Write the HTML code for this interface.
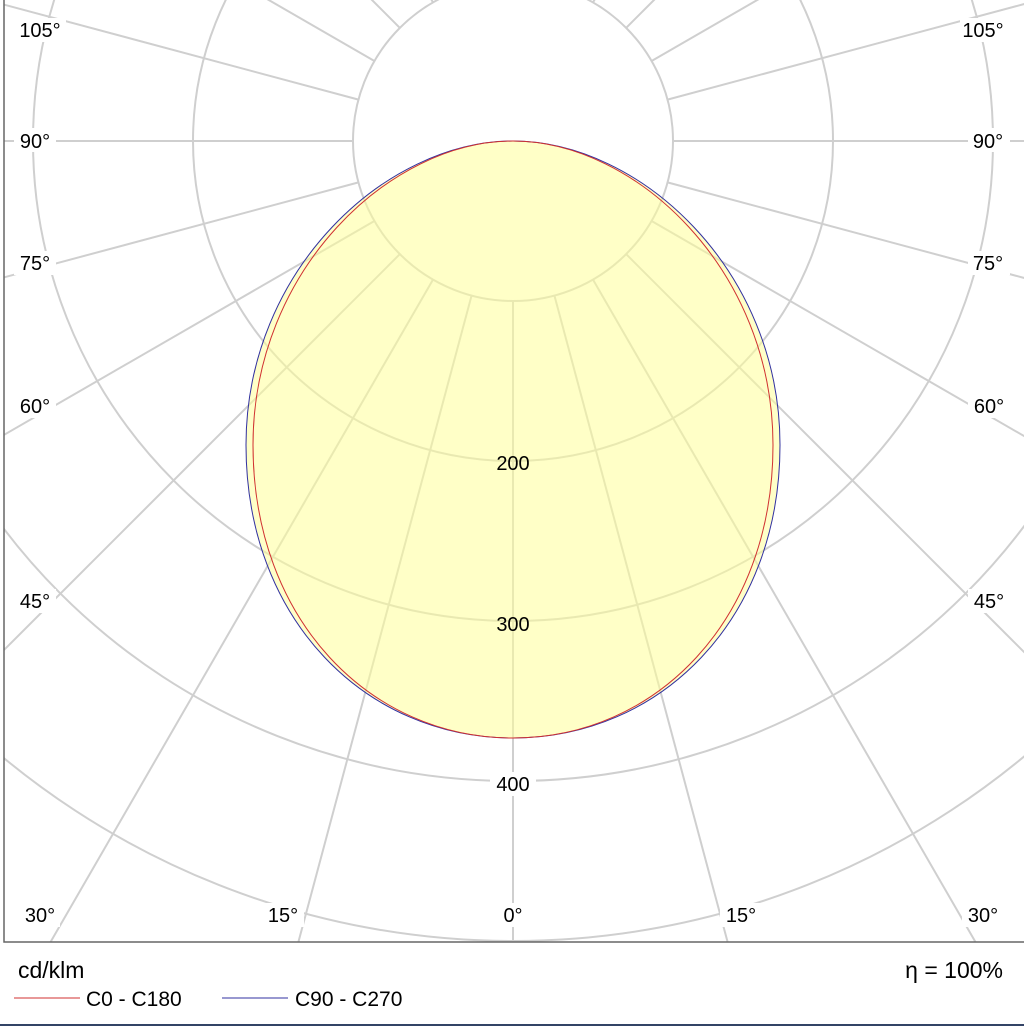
<!DOCTYPE html>
<html><head><style>
html,body{margin:0;padding:0;background:#fff;overflow:hidden;width:1024px;height:1026px}
svg{display:block}
text{font-family:"Liberation Sans",Arial,sans-serif;fill:#000}
</style></head><body>
<svg width="1024" height="1026" viewBox="0 0 1024 1026">
<defs><clipPath id="c"><rect x="4" y="0" width="1020" height="942"/></clipPath></defs>
<g clip-path="url(#c)" stroke="#cfcfcf" stroke-width="2" fill="none">
<circle cx="513" cy="141" r="160"/>
<circle cx="513" cy="141" r="320"/>
<circle cx="513" cy="141" r="480"/>
<circle cx="513" cy="141" r="640"/>
<circle cx="513" cy="141" r="800"/>
<circle cx="513" cy="141" r="960"/>
<line x1="513" y1="301" x2="513" y2="1541"/>
<line x1="554.4" y1="295.5" x2="875.3" y2="1493.3"/><line x1="471.6" y1="295.5" x2="150.7" y2="1493.3"/>
<line x1="593" y1="279.6" x2="1213" y2="1353.4"/><line x1="433" y1="279.6" x2="-187" y2="1353.4"/>
<line x1="626.1" y1="254.1" x2="1502.9" y2="1130.9"/><line x1="399.9" y1="254.1" x2="-476.9" y2="1130.9"/>
<line x1="651.6" y1="221" x2="1725.4" y2="841"/><line x1="374.4" y1="221" x2="-699.4" y2="841"/>
<line x1="667.5" y1="182.4" x2="1865.3" y2="503.3"/><line x1="358.5" y1="182.4" x2="-839.3" y2="503.3"/>
<line x1="673" y1="141" x2="1913" y2="141"/><line x1="353" y1="141" x2="-887" y2="141"/>
<line x1="667.5" y1="99.6" x2="1865.3" y2="-221.3"/><line x1="358.5" y1="99.6" x2="-839.3" y2="-221.3"/>
<line x1="651.6" y1="61" x2="1725.4" y2="-559"/><line x1="374.4" y1="61" x2="-699.4" y2="-559"/>
<line x1="626.1" y1="27.9" x2="1502.9" y2="-848.9"/><line x1="399.9" y1="27.9" x2="-476.9" y2="-848.9"/>
<line x1="593" y1="2.4" x2="1213" y2="-1071"/><line x1="433" y1="2.4" x2="-187" y2="-1071"/>
</g>
<path d="M513,141 C640,141 780,270 780,445 C780,620 660,738 513,738 C366,738 246,620 246,445 C246,270 386,141 513,141Z" fill="#ffff99" fill-opacity="0.55" stroke="#3030a0" stroke-width="1"/>
<path d="M513,141 C636,141 773,270 773,445 C773,620 656,738 513,738 C370,738 253,620 253,445 C253,270 390,141 513,141Z" fill="none" stroke="#d03030" stroke-width="1"/>
<g font-size="20" text-anchor="middle">
<g fill="#fff"><rect x="14" y="18" width="52" height="24"/><rect x="960" y="18" width="52" height="24"/>
<rect x="14" y="128" width="42" height="24"/><rect x="968" y="128" width="42" height="24"/>
<rect x="14" y="251" width="42" height="24"/><rect x="968" y="251" width="42" height="24"/>
<rect x="14" y="394" width="42" height="24"/><rect x="968" y="394" width="42" height="24"/>
<rect x="14" y="589" width="42" height="24"/><rect x="968" y="589" width="42" height="24"/>
<rect x="18" y="903" width="42" height="24"/><rect x="962" y="903" width="42" height="24"/>
<rect x="262" y="903" width="42" height="24"/><rect x="720" y="903" width="42" height="24"/>
<rect x="498" y="903" width="30" height="24"/>
<rect x="490" y="772" width="46" height="24"/></g>
<text x="40" y="37">105°</text><text x="983" y="37">105°</text>
<text x="35" y="148">90°</text><text x="988" y="148">90°</text>
<text x="35" y="270">75°</text><text x="988" y="270">75°</text>
<text x="35" y="413">60°</text><text x="989" y="413">60°</text>
<text x="35" y="608">45°</text><text x="989" y="608">45°</text>
<text x="40" y="922">30°</text><text x="983" y="922">30°</text>
<text x="283" y="922">15°</text><text x="741" y="922">15°</text>
<text x="513" y="922">0°</text>
<text x="513" y="470">200</text><text x="513" y="631">300</text><text x="513" y="791">400</text>
</g>
<polyline points="4,0 4,942 1024,942" fill="none" stroke="#666" stroke-width="1.5"/>
<text x="18" y="978" font-size="23">cd/klm</text>
<text x="1003" y="978" font-size="23" text-anchor="end">η = 100%</text>
<line x1="14" y1="998" x2="80" y2="998" stroke="#d03030" stroke-width="1"/>
<text x="86" y="1006" font-size="21">C0 - C180</text>
<line x1="222" y1="998" x2="288" y2="998" stroke="#3030a0" stroke-width="1"/>
<text x="295" y="1006" font-size="21">C90 - C270</text>
<rect x="0" y="1024" width="1024" height="2" fill="#334466"/>
</svg>
</body></html>
